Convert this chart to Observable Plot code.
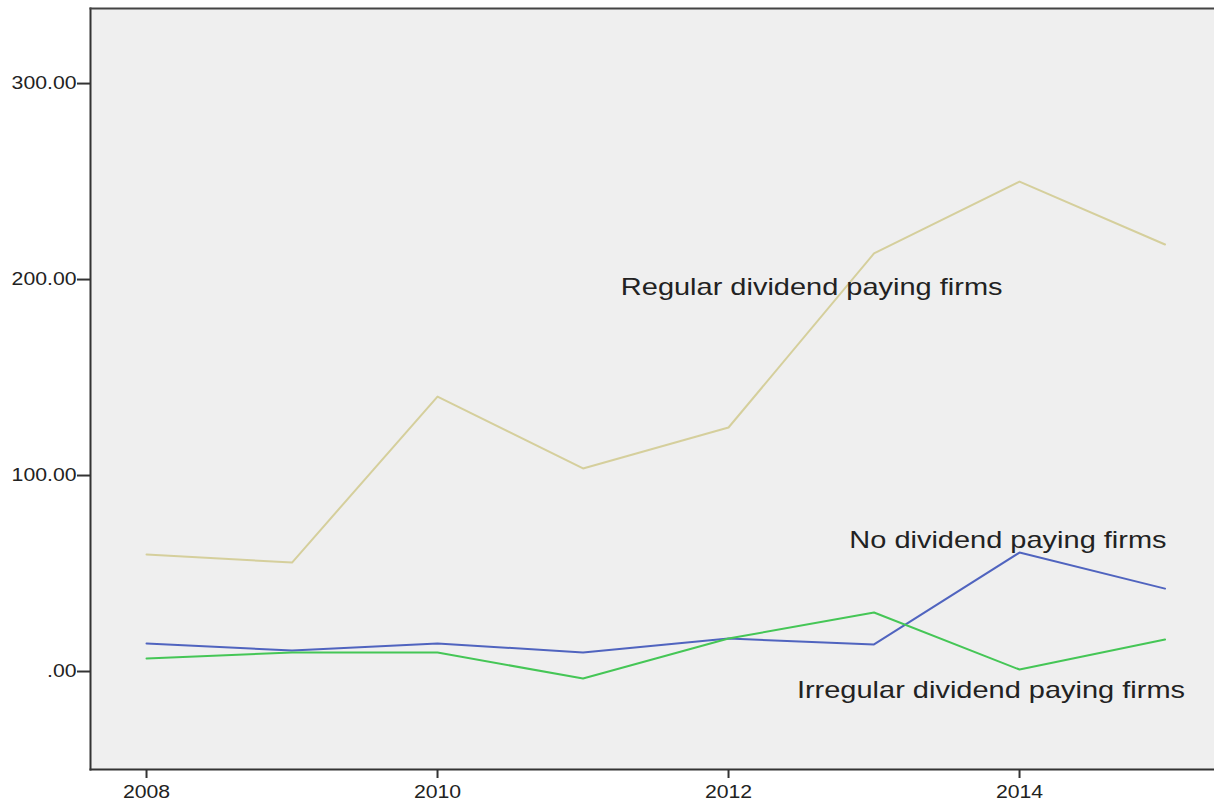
<!DOCTYPE html>
<html>
<head>
<meta charset="utf-8">
<script src="https://cdn.jsdelivr.net/npm/d3@7"></script>
<script src="https://cdn.jsdelivr.net/npm/@observablehq/plot@0.6"></script>
<style>
  html, body { margin: 0; padding: 0; background: #fff; }
  svg { display: block; }
</style>
</head>
<body>
<div id="chart"></div>
<script>
const years = [2008, 2009, 2010, 2011, 2012, 2013, 2014, 2015];
const regular = [59.7, 55.6, 140.3, 103.6, 124.5, 213.3, 250.0, 217.9];
const noDividend = [14.3, 10.7, 14.3, 9.7, 16.8, 13.8, 60.7, 42.3];
const irregular = [6.6, 9.7, 9.7, -3.6, 16.8, 30.1, 1.0, 16.3];

const seriesNames = ["Regular dividend paying firms", "No dividend paying firms", "Irregular dividend paying firms"];
const seriesColors = ["#d5cf9c", "#5064bf", "#45c656"];
const labelX = [2011.26, 2012.83, 2012.47];
const labelY = [196, 67, -10];

const xTicks = [2008, 2010, 2012, 2014];
const yTicks = [0, 100, 200, 300];

const valuesBySeries = [regular, noDividend, irregular];
const rows = [];
valuesBySeries.forEach((vals, s) => {
  vals.forEach((v, i) => rows.push({series: seriesNames[s], year: years[i], value: v}));
});
const labels = seriesNames.map((name, i) => ({name, x: labelX[i], y: labelY[i]}));

const font = "'Liberation Sans', Arial, sans-serif";
const xFmt = d => String(d);
const yFmt = d => d === 0 ? ".00" : d.toFixed(2);

const chart = Plot.plot({
  width: 1214,
  height: 801,
  marginLeft: 90,
  marginRight: 0,
  marginTop: 8,
  marginBottom: 32,
  style: {fontFamily: font, fontSize: "18px", color: "#222", background: "#fff"},
  x: {domain: [2007.615, 2015.34], label: null},
  y: {domain: [-50, 338.3], label: null},
  color: {domain: seriesNames, range: seriesColors},
  marks: [
    Plot.frame({fill: "#efefef", stroke: null}),
    Plot.axisX({ticks: xTicks, tickFormat: xFmt, tickSize: 9, tickPadding: 7, strokeWidth: 2, stroke: "#333", fill: "#222", fontSize: 18, label: null}),
    Plot.axisY({ticks: yTicks, tickFormat: yFmt, tickSize: 13, tickPadding: 1, strokeWidth: 2, stroke: "#333", fill: "#222", fontSize: 18, label: null}),
    Plot.frame({anchor: "left", stroke: "#333", strokeWidth: 2}),
    Plot.frame({anchor: "bottom", stroke: "#333", strokeWidth: 2}),
    Plot.frame({anchor: "top", stroke: "#444", strokeWidth: 2}),
    Plot.line(rows, {x: "year", y: "value", z: "series", stroke: "series", strokeWidth: 2}),
    Plot.text(labels, {x: "x", y: "y", text: "name", textAnchor: "start", fontSize: 23, fill: "#222", fontFamily: font})
  ]
});

// Horizontal stretch of the glyphs, as in the reference rendering
function stretch(selector, sx) {
  d3.select(chart).selectAll(selector).each(function () {
    const t = this.getAttribute("transform") || "";
    this.setAttribute("transform", t + ` scale(${sx},1)`);
  });
}
stretch('g[aria-label="text"] text', 1.26);
stretch('g[aria-label="x-axis tick label"] text', 1.18);
stretch('g[aria-label="y-axis tick label"] text', 1.18);

document.getElementById("chart").appendChild(chart);
</script>
</body>
</html>
